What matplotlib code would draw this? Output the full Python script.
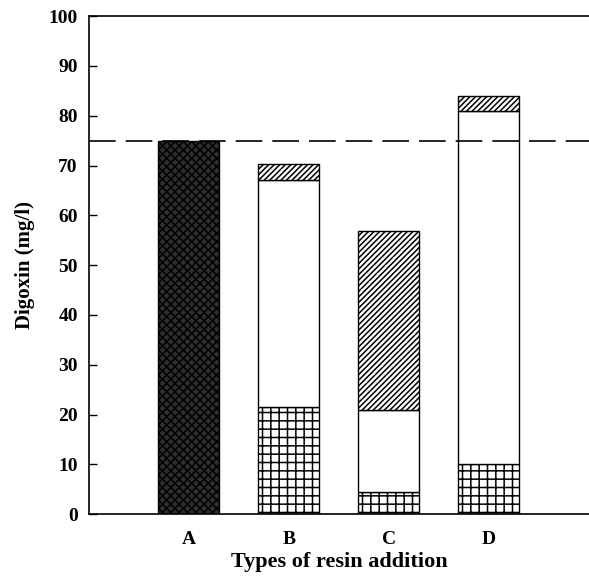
import matplotlib
matplotlib.use("Agg")
import matplotlib.pyplot as plt
import numpy as np

# Digoxin levels (mg/l) per resin addition type, stacked segments
groups = ["A", "B", "C", "D"]
total_a = [75.0, 0, 0, 0]            # single dark bar for A
bottom_seg = [0, 21.5, 4.5, 10.0]    # cross-hatched lower part
middle_top = [0, 67.0, 21.0, 81.0]   # top of open (white) segment
bar_top = [0, 70.3, 56.8, 84.0]      # top of diagonal-hatched cap
reference_level = 75.0

plt.rcParams['font.family'] = ['Liberation Serif', 'DejaVu Serif']
plt.rcParams['font.weight'] = 'bold'
plt.rcParams['hatch.linewidth'] = 1.1

fig = plt.figure(figsize=(5.89, 5.77), dpi=100)
ax = fig.add_axes([0.151, 0.109, 0.849, 0.863])

x = np.arange(1, len(groups) + 1)
w = 0.61

# bar A: dark textured fill
ax.bar(x[0], total_a[0], width=w, color='#2e2e2e', edgecolor='black',
       hatch='xxxx', linewidth=1.0)

for i in range(1, len(groups)):
    low = bottom_seg[i]
    mid = middle_top[i]
    top = bar_top[i]
    ax.bar(x[i], low, width=w, color='white', edgecolor='black',
           hatch='++', linewidth=1.0)
    ax.bar(x[i], mid - low, bottom=low, width=w, color='white',
           edgecolor='black', linewidth=1.0)
    ax.bar(x[i], top - mid, bottom=mid, width=w, color='white',
           edgecolor='black', hatch='//////', linewidth=1.0)

ax.axhline(reference_level, color='black', linewidth=1.2,
           linestyle=(0, (16, 6)))

ax.set_xlim(0.0, 5.0)
ax.set_ylim(0, 100)
ax.set_yticks(np.arange(0, 101, 10))
ax.set_xticks(x)
ax.set_xticklabels(groups, fontsize=14, fontweight='bold')
ax.tick_params(axis='y', direction='in', length=6, width=1, labelsize=14, pad=8)
ax.tick_params(axis='x', length=0, pad=12)
for lab in ax.get_yticklabels():
    lab.set_fontweight('bold')

ax.spines['right'].set_visible(False)
for s in ['left', 'top', 'bottom']:
    ax.spines[s].set_linewidth(1.2)

ax.set_ylabel('Digoxin (mg/l)', fontsize=15, fontweight='bold', labelpad=10)
ax.set_xlabel('Types of resin addition', fontsize=16, fontweight='bold', labelpad=3)

fig.savefig('out.png', dpi=100)
